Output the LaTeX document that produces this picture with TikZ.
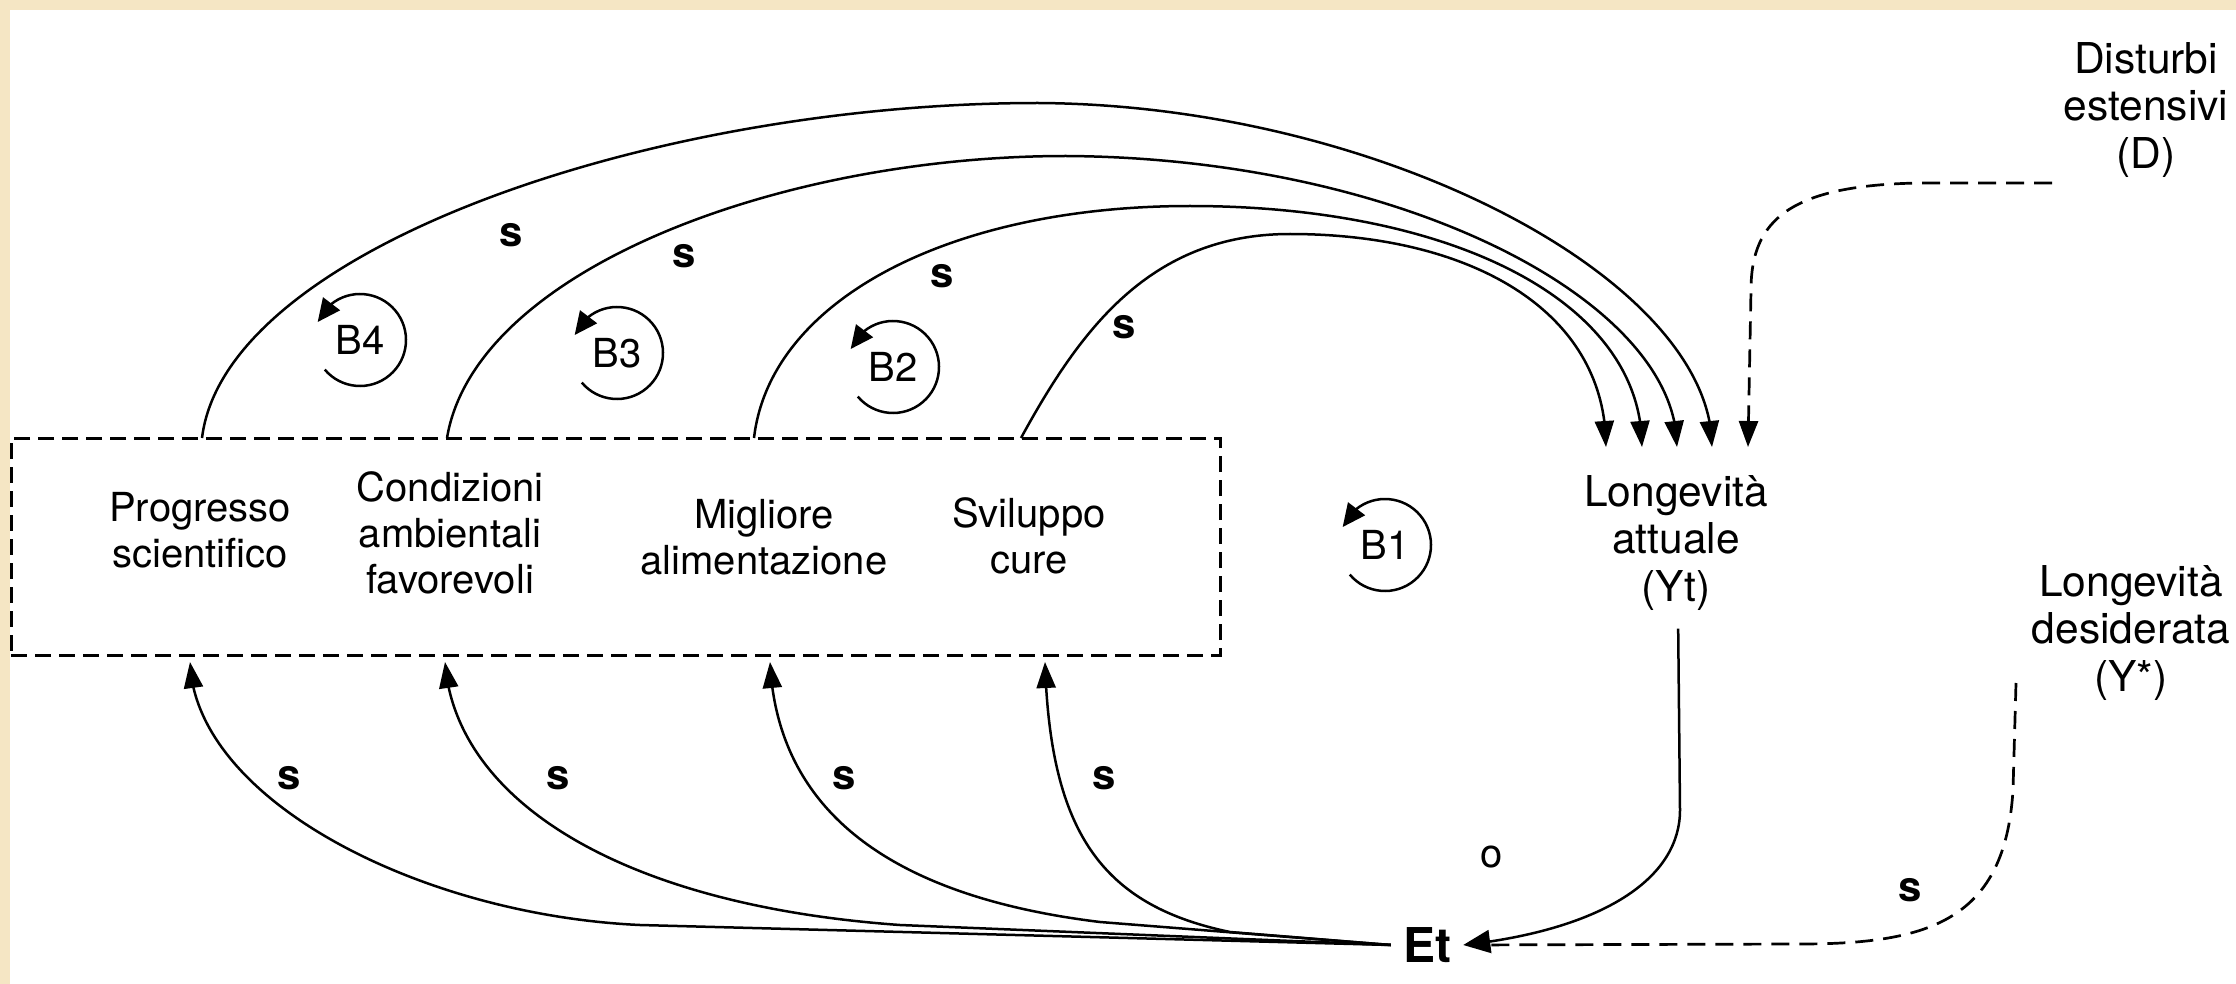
\documentclass[tikz,border=0pt]{standalone}
\usepackage{fontspec}
\setmainfont{TeX Gyre Heros}
\usetikzlibrary{arrows.meta,bending}
\definecolor{framebeige}{HTML}{F5E6C4}
\begin{document}
\begin{tikzpicture}[x=1pt,y=-1pt,
  lbl/.style={font=\fontsize{40}{46}\selectfont, align=center, inner sep=0pt},
  biglbl/.style={font=\fontsize{42.5}{47.5}\selectfont, align=center, inner sep=0pt},
  sgn/.style={font=\fontsize{42}{48}\selectfont\bfseries, inner sep=0pt},
  link/.style={line width=2.5pt, -{Triangle[length=26pt,width=19pt]}},
  dlink/.style={line width=2.7pt, dash pattern=on 18pt off 10pt, -{Triangle[length=26pt,width=19pt]}},
  looparrow/.style={line width=2.5pt, -{Triangle[length=23pt,width=21pt,flex]}}]
\useasboundingbox (0,0) rectangle (2236,984);
% frame
\fill[framebeige] (0,0) rectangle (2236,984);
\fill[white] (10,10) rectangle (2236,984);

% group of factors
\node[draw, dash pattern=on 16pt off 8pt, line width=3pt, minimum width=1209pt, minimum height=217pt, inner sep=0pt] (box) at (615.5,546.5) {};
\node[lbl] (prog) at (200,530) {Progresso\\scientifico};
\node[lbl] (cond) at (450,533) {Condizioni\\ambientali\\favorevoli};
\node[lbl] (migl) at (764,537) {Migliore\\alimentazione};
\node[lbl] (svil) at (1029,536) {Sviluppo\\cure};

% stocks and external variables
\node[biglbl] (Yt) at (1676,543) {Longevità\\attuale\\(Yt)};
\node[biglbl] (Ys) at (2131,633) {Longevità\\desiderata\\(Y*)};
\node[biglbl] (D) at (2146,110) {Disturbi\\estensivi\\(D)};
\node[font=\fontsize{48}{54}\selectfont\bfseries, inner sep=12pt] (Et) at (1427,945) {Et};

% balancing loops
\node[lbl] (B4) at (360,340) {B4};
\node[lbl] (B3) at (617,353) {B3};
\node[lbl] (B2) at (893,367) {B2};
\node[lbl] (B1) at (1385,545) {B1};
\foreach \b in {B4,B3,B2,B1}
  \draw[looparrow] (\b.center) ++(220:46pt) arc[start angle=220, end angle=517, radius=46pt];

% connector ends
\coordinate (t1) at (202,438);
\coordinate (t2) at (447,438);
\coordinate (t3) at (754,438);
\coordinate (t4) at (1021,438);
\coordinate (a1) at (1606,447);
\coordinate (a2) at (1642,447);
\coordinate (a3) at (1677,447);
\coordinate (a4) at (1712,447);
\coordinate (a5) at (1748,447);
\coordinate (c1) at (190,662);
\coordinate (c2) at (445,662);
\coordinate (c3) at (770,662);
\coordinate (c4) at (1045,662);
\coordinate (dstart) at (2052,183);
\coordinate (ysstart) at (2016,683);

% factors -> actual longevity
\draw[link] (t1) .. controls (225,250) and (650,103) .. (1038,103) .. controls (1380,105) and (1712,280) .. (a4);
\draw[link] (t2) .. controls (475,270) and (780,156) .. (1066,156) .. controls (1400,158) and (1677,300) .. (a3);
\draw[link] (t3) .. controls (770,300) and (950,206) .. (1190,206) .. controls (1450,206) and (1642,300) .. (a2);
\draw[link] (t4) .. controls (1080,330) and (1150,234) .. (1290,234) .. controls (1470,234) and (1606,310) .. (a1);

% disturbances
\draw[dlink] (dstart) -- (1920,183) .. controls (1790,185) and (1751,220) .. (1751,290) -- (a5);

% gap -> factors
\draw[link] (Et.west) -- (640,925) .. controls (420,915) and (195,800) .. (c1);
\draw[link] (Et.west) -- (900,925) .. controls (620,905) and (455,800) .. (c2);
\draw[link] (Et.west) -- (1100,922) .. controls (920,900) and (778,830) .. (c3);
\draw[link] (Et.west) -- (1230,932) .. controls (1100,905) and (1050,830) .. (c4);

% actual and desired longevity -> gap
\draw[line width=2.5pt, -{Triangle[length=27pt,width=23pt]}, shorten <=18pt] (Yt.south -| 1678,0) -- (1680,810) .. controls (1680,880) and (1600,930) .. (Et.east);
\draw[line width=2.7pt, dash pattern=on 18pt off 10pt, shorten >=12pt] (ysstart) -- (2013,790) .. controls (2005,920) and (1930,944) .. (1800,944) -- (Et.east);

% polarities
\node[sgn] (s1) at (511,235) {s};
\node[sgn] (s2) at (684,256) {s};
\node[sgn] (s3) at (942,276) {s};
\node[sgn] (s4) at (1124,327) {s};
\node[sgn] (s5) at (289,778) {s};
\node[sgn] (s6) at (558,778) {s};
\node[sgn] (s7) at (844,778) {s};
\node[sgn] (s8) at (1104,778) {s};
\node[sgn] (s9) at (1910,890) {s};
\node[lbl] (o1) at (1492,857) {o};
\end{tikzpicture}
\end{document}
